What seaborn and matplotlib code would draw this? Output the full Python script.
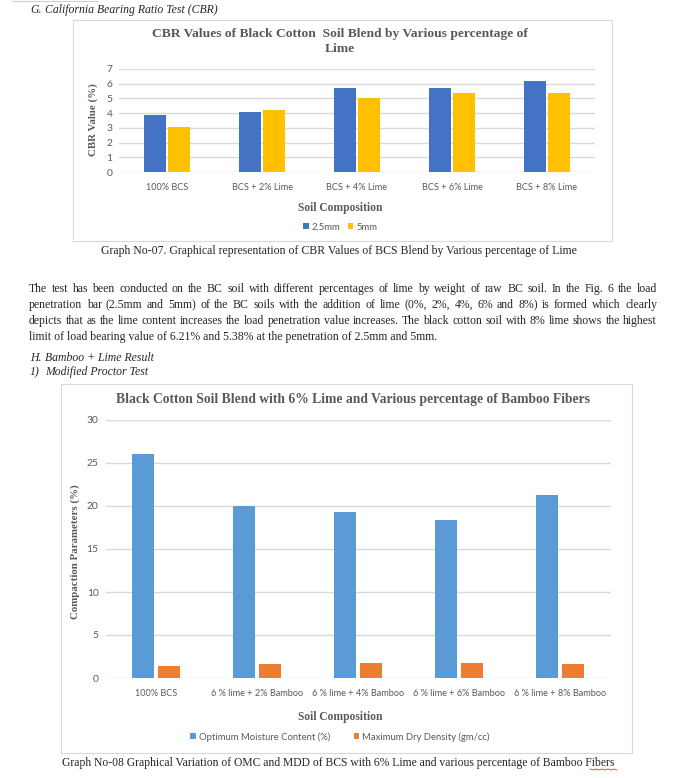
import pandas as pd
import matplotlib
matplotlib.use("Agg")
import matplotlib.pyplot as plt
import seaborn as sns
from matplotlib.patches import Rectangle
from matplotlib.lines import Line2D

# CBR chart (graph no-07)
cbr_labels = ["100% BCS", "BCS + 2% Lime", "BCS + 4% Lime", "BCS + 6% Lime", "BCS + 8% Lime"]
cbr_series = ["2.5mm", "5mm"]
cbr_25mm = [3.88, 4.10, 5.68, 5.72, 6.21]
cbr_5mm = [3.05, 4.22, 5.02, 5.38, 5.38]

# Compaction chart (graph no-08)
mix_labels = ["100% BCS", "6 % lime + 2% Bamboo", "6 % lime + 4% Bamboo",
              "6 % lime + 6% Bamboo", "6 % lime + 8% Bamboo"]
comp_series = ["Optimum Moisture Content (%)", "Maximum Dry Density (gm/cc)"]
omc = [26.1, 20.0, 19.3, 18.4, 21.3]
mdd = [1.38, 1.62, 1.70, 1.70, 1.62]

para_lines = [
    "The test has been conducted on the BC soil with different percentages of lime by weight of raw BC soil. In the Fig. 6 the load",
    "penetration bar (2.5mm and 5mm) of the BC soils with the addition of lime (0%, 2%, 4%, 6% and 8%) is formed which clearly",
    "depicts that as the lime content increases the load penetration value increases. The black cotton soil with 8% lime shows the highest",
    "limit of load bearing value of 6.21% and 5.38% at the penetration of 2.5mm and 5mm.",
]

sns.set_style("white")
plt.rcParams["font.family"] = ["Lato", "DejaVu Sans"]

W, H = 689, 778
fig = plt.figure(figsize=(W / 100, H / 100), dpi=100)
fig.patch.set_facecolor("white")

GRAY = "#595959"
SERIF = "Liberation Serif"
BODY = 8.5


def fx(x):
    return x / W


def fy(y):
    return 1 - y / H


def axes_px(left, top, right, bottom):
    return fig.add_axes([fx(left), fy(bottom), (right - left) / W, (bottom - top) / H])


def frame(left, top, right, bottom):
    fig.patches.append(Rectangle((fx(left), fy(bottom)), (right - left) / W, (bottom - top) / H,
                                 transform=fig.transFigure, fill=False, ec="#D9D9D9", lw=0.8))


def style_axes(ax, ymax, step):
    ax.set_ylim(0, ymax)
    ax.set_yticks(range(0, ymax + 1, step))
    ax.yaxis.grid(True, color="#D9D9D9", lw=1.0)
    ax.set_axisbelow(True)
    sns.despine(ax=ax, left=True, bottom=True)
    ax.tick_params(length=0, colors=GRAY, labelsize=6.6, pad=3)
    ax.tick_params(axis="y", labelsize=7.4, pad=5)
    ax.tick_params(axis="x", pad=8)
    ax.set_xlabel("")
    ax.set_ylabel("")


# ---------- page text on top ----------
fig.add_artist(Line2D([fx(12), fx(98)], [fy(1), fy(1)], color="#D0D0D0", lw=0.8))
fig.text(fx(30), fy(10), "G.", family=SERIF, style="italic", fontsize=BODY, va="center")
fig.text(fx(45), fy(10), "California Bearing Ratio Test (CBR)", family=SERIF, style="italic",
         fontsize=BODY, va="center")

# ---------- chart 1 ----------
frame(73, 20, 612, 241)
cbr_df = pd.DataFrame({
    "Soil Composition": cbr_labels * 2,
    "series": [cbr_series[0]] * 5 + [cbr_series[1]] * 5,
    "value": cbr_25mm + cbr_5mm,
})
ax1 = axes_px(119.5, 69, 594.5, 172)
sns.barplot(data=cbr_df, x="Soil Composition", y="value", hue="series", ax=ax1,
            palette={"2.5mm": "#4472C4", "5mm": "#FFC000"}, width=0.505, gap=0.12,
            saturation=1, edgecolor="none")
style_axes(ax1, 7, 1)
sns.move_legend(ax1, "center", bbox_to_anchor=(fx(340), fy(227)), bbox_transform=fig.transFigure,
                ncol=2, frameon=False, title=None, fontsize=6.8, handlelength=0.6, handleheight=0.6,
                handletextpad=0.3, columnspacing=0.8, labelcolor=GRAY)
fig.text(fx(340), fy(34), "CBR Values of Black Cotton  Soil Blend by Various percentage of",
         family=SERIF, weight="bold", fontsize=9.7, color=GRAY, ha="center", va="center")
fig.text(fx(340), fy(49.5), "Lime", family=SERIF, weight="bold", fontsize=9.7, color=GRAY,
         ha="center", va="center")
fig.text(fx(340), fy(208), "Soil Composition", family=SERIF, weight="bold", fontsize=8.3,
         color=GRAY, ha="center", va="center")
fig.text(fx(93), fy(120), "CBR Value (%)", family=SERIF, weight="bold", fontsize=7.8,
         color=GRAY, ha="center", va="center", rotation=90)
fig.text(fx(339), fy(251), "Graph No-07. Graphical representation of CBR Values of BCS Blend by Various percentage of Lime",
         family=SERIF, fontsize=BODY, ha="center", va="center")

# ---------- justified paragraph ----------
renderer = fig.canvas.get_renderer()
x0, x1 = 29, 657
for i, line in enumerate(para_lines):
    y = fy(289 + 16 * i)
    if i == len(para_lines) - 1:
        fig.text(fx(x0), y, line, family=SERIF, fontsize=BODY, va="center")
        continue
    words = line.split(" ")
    arts = [fig.text(0, y, w, family=SERIF, fontsize=BODY, va="center") for w in words]
    widths = [a.get_window_extent(renderer).width for a in arts]
    space = (x1 - x0 - sum(widths)) / (len(words) - 1)
    pos = x0
    for a, w in zip(arts, widths):
        a.set_x(fx(pos))
        pos += w + space

fig.text(fx(30), fy(358), "H.", family=SERIF, style="italic", fontsize=BODY, va="center")
fig.text(fx(45), fy(358), "Bamboo + Lime Result", family=SERIF, style="italic", fontsize=BODY, va="center")
fig.text(fx(30), fy(372), "1)", family=SERIF, style="italic", fontsize=BODY, va="center")
fig.text(fx(45), fy(372), "Modified Proctor Test", family=SERIF, style="italic", fontsize=BODY, va="center")

# ---------- chart 2 ----------
frame(61, 384, 632, 753)
comp_df = pd.DataFrame({
    "Soil Composition": mix_labels * 2,
    "series": [comp_series[0]] * 5 + [comp_series[1]] * 5,
    "value": omc + mdd,
})
ax2 = axes_px(105.5, 420, 610.5, 678)
sns.barplot(data=comp_df, x="Soil Composition", y="value", hue="series", ax=ax2,
            palette=dict(zip(comp_series, ["#5B9BD5", "#ED7D31"])), width=0.512, gap=0.13,
            saturation=1, edgecolor="none")
style_axes(ax2, 30, 5)
sns.move_legend(ax2, "center", bbox_to_anchor=(fx(340), fy(737)), bbox_transform=fig.transFigure,
                ncol=2, frameon=False, title=None, fontsize=6.8, handlelength=0.6, handleheight=0.6,
                handletextpad=0.3, columnspacing=2.5, labelcolor=GRAY)
fig.text(fx(353), fy(399), "Black Cotton Soil Blend with 6% Lime and Various percentage of Bamboo Fibers",
         family=SERIF, weight="bold", fontsize=9.8, color=GRAY, ha="center", va="center")
fig.text(fx(340), fy(717), "Soil Composition", family=SERIF, weight="bold", fontsize=8.3,
         color=GRAY, ha="center", va="center")
fig.text(fx(75), fy(552), "Compaction Parameters (%)", family=SERIF, weight="bold", fontsize=7.8,
         color=GRAY, ha="center", va="center", rotation=90)
fig.text(fx(62), fy(763), "Graph No-08 Graphical Variation of OMC and MDD of BCS with 6% Lime and various percentage of Bamboo Fibers",
         family=SERIF, fontsize=8.4, va="center")

# spell-check squiggle under the last word
zig_x = [fx(590 + 3 * k) for k in range(10)]
zig_y = [fy(769 + (k % 2)) for k in range(10)]
fig.add_artist(Line2D(zig_x, zig_y, color="#E03030", lw=0.6))

fig.savefig("out.png", dpi=100)
